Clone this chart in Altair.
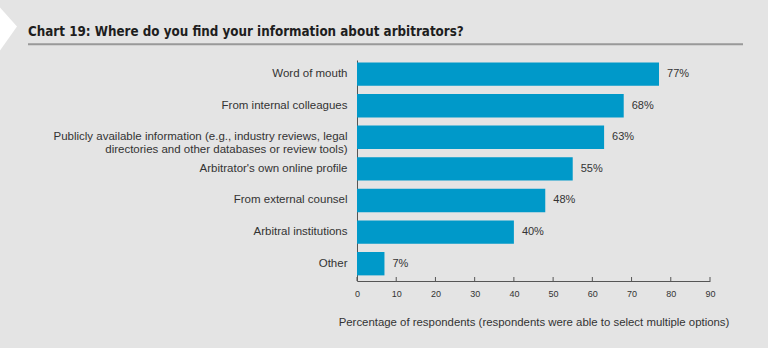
import altair as alt
import pandas as pd

categories = [
    "Word of mouth",
    "From internal colleagues",
    "Publicly available information (e.g., industry reviews, legal\ndirectories and other databases or review tools)",
    "Arbitrator's own online profile",
    "From external counsel",
    "Arbitral institutions",
    "Other",
]
values = [77, 68, 63, 55, 48, 40, 7]
tick_values = [0, 10, 20, 30, 40, 50, 60, 70, 80, 90]
title_text = ["Chart 19: Where do you find your information about arbitrators?"]
x_title = "Percentage of respondents (respondents were able to select multiple options)"

df = pd.DataFrame({"cat": categories, "val": values})
df["lbl"] = df["val"].astype(str) + "%"

W, H = 353, 221
LEFT, TOP = 357, 60
FONT = "Liberation Sans"

y_scale = alt.Scale(paddingInner=0.26, paddingOuter=0.127, align=0.3)
y_axis = alt.Axis(
    title=None, domain=True, domainColor="#555555", domainWidth=1, ticks=False,
    labelPadding=10, labelFontSize=11.5, labelColor="#333333", labelFont=FONT,
    labelLimit=400, labelLineHeight=13,
    labelExpr="split(datum.label, '\\n')",
)
x_scale = alt.Scale(domain=[0, 90], nice=False)
x_axis = alt.Axis(
    values=tick_values, grid=False, ticks=False, domain=True, domainColor="#555555",
    labelFontSize=9, labelColor="#333333", labelFont=FONT, labelPadding=8,
    labelOverlap=False, labelFlush=False,
    title=x_title, titleFontSize=11.4, titleFontWeight="normal", titleColor="#333333",
    titleFont=FONT, titlePadding=18,
)

bars = alt.Chart(df).mark_bar(color="#0099c9").encode(
    x=alt.X("val:Q", scale=x_scale, axis=x_axis),
    y=alt.Y("cat:N", sort=categories, scale=y_scale, axis=y_axis),
)
labels = alt.Chart(df).mark_text(align="left", dx=8, fontSize=11, color="#333333", font=FONT).encode(
    x=alt.X("val:Q", scale=x_scale, axis=x_axis),
    y=alt.Y("cat:N", sort=categories, scale=y_scale, axis=y_axis),
    text="lbl:N",
)

ticks = alt.Chart(pd.DataFrame({"val": tick_values})).mark_rule(color="#555555", strokeWidth=1).encode(
    x=alt.X("val:Q", scale=x_scale, axis=x_axis), y=alt.value(H - 4), y2=alt.value(H)
)

title = alt.Chart(pd.DataFrame({"t": title_text})).mark_text(
    align="left", baseline="alphabetic", fontSize=13.3, fontWeight="bold",
    font="'DejaVu Sans Condensed', 'Liberation Sans'", color="#1e1e1e",
).encode(x=alt.value(28 - LEFT), y=alt.value(35.7 - TOP), text="t:N")

underline = alt.Chart(pd.DataFrame({"a": [0]})).mark_rule(color="#999999", strokeWidth=2).encode(
    x=alt.value(28 - LEFT), x2=alt.value(743 - LEFT), y=alt.value(44.3 - TOP)
)

notch = alt.Chart(pd.DataFrame({"a": [0]})).mark_point(
    shape="M-0.3,-1 L0,-1 L0.79,-0.12 L0,1 L-0.3,1 Z", size=1849, filled=True,
    color="white", opacity=1, strokeWidth=0,
).encode(x=alt.value(0 - LEFT), y=alt.value(29 - TOP))

bottom_strip = alt.Chart(pd.DataFrame({"a": [0]})).mark_rect(color="white").encode(
    x=alt.value(-LEFT), x2=alt.value(770 - LEFT), y=alt.value(348 - TOP), y2=alt.value(354 - TOP)
)
right_strip = alt.Chart(pd.DataFrame({"a": [0]})).mark_rect(color="white").encode(
    x=alt.value(768 - LEFT), x2=alt.value(770 - LEFT), y=alt.value(-TOP), y2=alt.value(354 - TOP)
)

chart = alt.layer(bars, labels, ticks, title, underline, notch, bottom_strip, right_strip).properties(
    width=W, height=H,
    autosize=alt.AutoSizeParams(type="none"),
    padding={"left": LEFT, "top": TOP, "right": 770 - LEFT - W, "bottom": 354 - TOP - H},
    background="#e4e4e4",
).configure_view(stroke=None)

chart.save("out.html", embed_options={"renderer": "svg", "actions": False})
